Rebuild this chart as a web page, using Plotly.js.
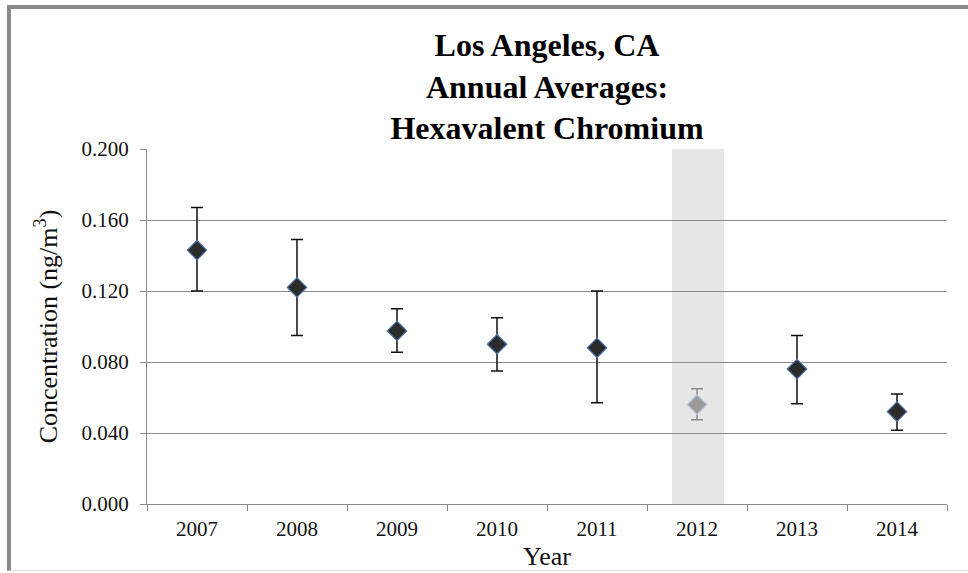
<!DOCTYPE html>
<html>
<head>
<meta charset="utf-8">
<script src="https://cdn.plot.ly/plotly-3.0.1.min.js"></script>
<style>
  html, body { margin: 0; padding: 0; background: #fff; }
  #wrap { position: relative; width: 968px; height: 573px; }
  #chart { width: 968px; height: 573px; }
  #frame { position: absolute; left: 7px; top: 5px; right: -10px; bottom: 2px;
           border-top: 4px solid #8a8a8a; border-left: 4px solid #8a8a8a;
           border-bottom: 1px solid #d8d8d8; pointer-events: none; }
</style>
</head>
<body>
<div id="wrap">
  <div id="chart"></div>
  <div id="frame"></div>
</div>
<script>
// Data
const years = ['2007', '2008', '2009', '2010', '2011', '2012', '2013', '2014'];
const means = [0.143, 0.122, 0.0975, 0.090, 0.088, 0.056, 0.076, 0.052];
const upper = [0.167, 0.149, 0.110, 0.105, 0.120, 0.065, 0.095, 0.062];
const lower = [0.120, 0.095, 0.0855, 0.075, 0.057, 0.0475, 0.0565, 0.0415];
const highlightYear = '2012';
const yTicks = [0, 0.04, 0.08, 0.12, 0.16, 0.2];
const yTickText = ['0.000', '0.040', '0.080', '0.120', '0.160', '0.200'];

const mainIdx = years.map((y, i) => i).filter(i => years[i] !== highlightYear);
const hiIdx = years.map((y, i) => i).filter(i => years[i] === highlightYear);

function pick(arr, idx) { return idx.map(i => arr[i]); }

const serif = 'Liberation Serif, Times New Roman, serif';

const traceMain = {
  type: 'scatter', mode: 'markers',
  x: pick(years, mainIdx), y: pick(means, mainIdx),
  marker: { symbol: 'diamond', size: 15, color: '#2b2b2b', line: { color: '#4f74b0', width: 1.2 } },
  error_y: {
    type: 'data', symmetric: false,
    array: mainIdx.map(i => upper[i] - means[i]),
    arrayminus: mainIdx.map(i => means[i] - lower[i]),
    color: '#111', thickness: 1.5, width: 6
  },
  showlegend: false, hoverinfo: 'x+y'
};

const traceHi = {
  type: 'scatter', mode: 'markers',
  x: pick(years, hiIdx), y: pick(means, hiIdx),
  marker: { symbol: 'diamond', size: 15, color: '#9a9a9a', line: { color: '#b8c4d8', width: 1.2 } },
  error_y: {
    type: 'data', symmetric: false,
    array: hiIdx.map(i => upper[i] - means[i]),
    arrayminus: hiIdx.map(i => means[i] - lower[i]),
    color: '#8a8a8a', thickness: 1.5, width: 6
  },
  showlegend: false, hoverinfo: 'x+y'
};

const hi = years.indexOf(highlightYear);

const layout = {
  width: 968, height: 573,
  margin: { l: 147, r: 21, t: 149, b: 69 },
  paper_bgcolor: '#ffffff', plot_bgcolor: '#ffffff',
  font: { family: serif, color: '#111', size: 21 },
  title: {
    text: '<b>Los Angeles, CA<br>Annual Averages:<br>Hexavalent Chromium</b>',
    font: { family: serif, size: 32, color: '#000' },
    x: 0.5, xref: 'paper', xanchor: 'center',
    y: 1 - 56 / 573, yref: 'container', yanchor: 'top'
  },
  xaxis: {
    type: 'category', categoryorder: 'array', categoryarray: years,
    range: [-0.5, years.length - 0.5],
    tickson: 'boundaries', ticks: 'outside', ticklen: 6, tickcolor: '#8a8a8a', tickwidth: 1,
    showline: true, linecolor: '#8a8a8a', linewidth: 1,
    showgrid: false, zeroline: false,
    ticklabelstandoff: 6,
    tickfont: { family: serif, size: 21, color: '#111' },
    title: { text: 'Year', font: { family: serif, size: 26, color: '#111' }, standoff: 6 }
  },
  yaxis: {
    range: [0, 0.2], tickvals: yTicks, ticktext: yTickText,
    ticks: 'outside', ticklen: 6, tickcolor: '#8a8a8a', tickwidth: 1,
    showline: true, linecolor: '#8a8a8a', linewidth: 1,
    showgrid: true, gridcolor: '#8a8a8a', gridwidth: 1, zeroline: false,
    ticklabelstandoff: 7,
    tickfont: { family: serif, size: 21, color: '#111' },
    title: { text: 'Concentration (ng/m<sup>3</sup>)', font: { family: serif, size: 26, color: '#111' }, standoff: 16 }
  },
  shapes: [{
    type: 'rect', layer: 'below',
    xref: 'x', yref: 'paper',
    x0: hi - 0.25, x1: hi + 0.27, y0: 0, y1: 1,
    fillcolor: '#e6e6e6', line: { width: 0 }
  }]
};

Plotly.newPlot('chart', [traceMain, traceHi], layout, { displayModeBar: false, staticPlot: true });
</script>
</body>
</html>
